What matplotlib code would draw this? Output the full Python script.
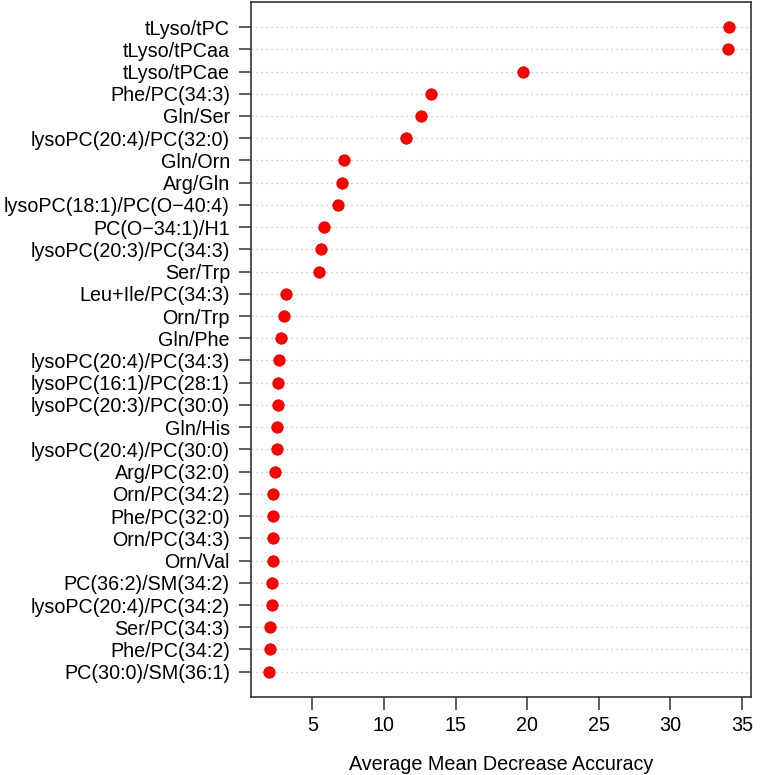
import matplotlib
matplotlib.use("Agg")
import matplotlib.pyplot as plt
import numpy as np

plt.rcParams.update({"font.family": ["Liberation Sans", "DejaVu Sans"], "font.size": 14.2})

# top to bottom, as in the reference
features = [
    "tLyso/tPC", "tLyso/tPCaa", "tLyso/tPCae", "Phe/PC(34:3)", "Gln/Ser",
    "lysoPC(20:4)/PC(32:0)", "Gln/Orn", "Arg/Gln", "lysoPC(18:1)/PC(O\u221240:4)",
    "PC(O\u221234:1)/H1", "lysoPC(20:3)/PC(34:3)", "Ser/Trp", "Leu+Ile/PC(34:3)",
    "Orn/Trp", "Gln/Phe", "lysoPC(20:4)/PC(34:3)", "lysoPC(16:1)/PC(28:1)",
    "lysoPC(20:3)/PC(30:0)", "Gln/His", "lysoPC(20:4)/PC(30:0)", "Arg/PC(32:0)",
    "Orn/PC(34:2)", "Phe/PC(32:0)", "Orn/PC(34:3)", "Orn/Val", "PC(36:2)/SM(34:2)",
    "lysoPC(20:4)/PC(34:2)", "Ser/PC(34:3)", "Phe/PC(34:2)", "PC(30:0)/SM(36:1)",
]
mda = [
    34.08, 34.06, 19.71, 13.27, 12.61, 11.52, 7.21, 7.05, 6.82, 5.79,
    5.58, 5.45, 3.18, 3.05, 2.81, 2.65, 2.63, 2.61, 2.53, 2.53,
    2.42, 2.28, 2.28, 2.28, 2.26, 2.16, 2.16, 2.06, 2.05, 2.00,
]

n = len(features)
y = np.arange(n, 0, -1)

fig = plt.figure(figsize=(7.6, 7.75), dpi=100)
ax = fig.add_axes([0.330, 0.1006, 0.658, 0.8972])

for yi in y:
    ax.axhline(yi, color="#bdbdbd", lw=0.9, ls=(0, (1, 3)), zorder=1)
ax.plot(mda, y, "o", ms=8.2, color="#ff0000", mec="#e00000", mew=0.6, zorder=3)

ax.set_xlim(0.70, 35.63)
ax.set_ylim(-0.14, 31.14)
ax.set_yticks(y)
ax.set_yticklabels(features)
ax.set_xticks([5, 10, 15, 20, 25, 30, 35])
ax.tick_params(axis="both", length=9, width=1.1, color="#333333", labelsize=14.2)
ax.tick_params(axis="x", pad=5)
ax.tick_params(axis="y", pad=6)
for s in ax.spines.values():
    s.set_linewidth(1.2)
    s.set_color("#333333")
ax.set_xlabel("Average Mean Decrease Accuracy", fontsize=14.2, labelpad=14)

fig.savefig("out.png", dpi=100)
